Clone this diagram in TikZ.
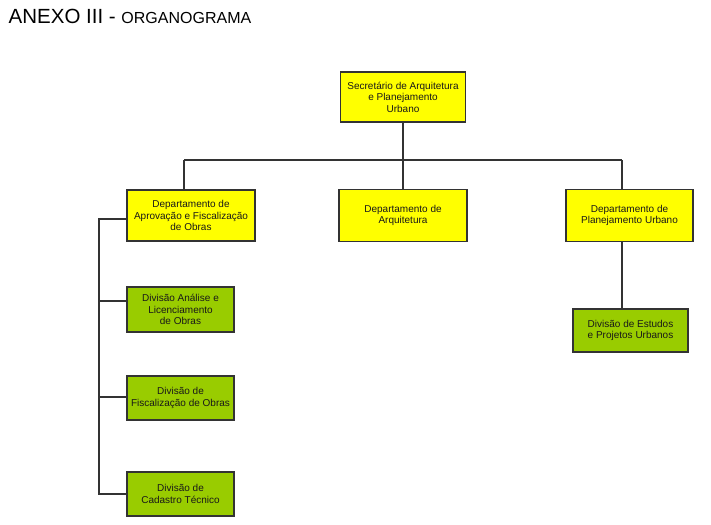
\documentclass[tikz,border=0pt]{standalone}
\usepackage{fontspec}
\setmainfont{Liberation Sans}
\definecolor{boxyellow}{HTML}{FFFF00}
\definecolor{boxgreen}{HTML}{99CC00}
\definecolor{edge}{HTML}{333333}
\begin{document}
\begin{tikzpicture}[x=1pt,y=-1pt,
  box/.style={draw=edge, line width=1.1pt, rectangle, align=center, inner sep=1pt,
    font=\fontsize{10}{11.5}\selectfont, text=black!90},
  dept/.style={box, fill=boxyellow},
  divbox/.style={box, fill=boxgreen},
  conn/.style={draw=edge, line width=1.1pt}]
\useasboundingbox (0,0) rectangle (711,524);
\node[anchor=base west, inner sep=0pt] (title) at (8.5,23.5)
  {\fontsize{20.5}{21}\selectfont ANEXO III - \fontsize{16}{17}\selectfont ORGANOGRAMA};

\node[dept, minimum width=125, minimum height=50] (top) at (403,97)
  {Secretário de Arquitetura\\e Planejamento\\Urbano};
\node[dept, minimum width=128, minimum height=51] (ldep) at (191,215.5)
  {Departamento de\\Aprovação e Fiscalização\\de Obras};
\node[dept, minimum width=128, minimum height=52] (mdep) at (403,215.5)
  {Departamento de\\Arquitetura};
\node[dept, minimum width=127, minimum height=52] (rdep) at (629.5,215.5)
  {Departamento de\\Planejamento Urbano};

\node[divbox, minimum width=107, minimum height=45] (d1) at (180.5,309.5)
  {Divisão Análise e\\Licenciamento\\de Obras};
\node[divbox, minimum width=107, minimum height=44] (d2) at (180.5,398)
  {Divisão de\\Fiscalização de Obras};
\node[divbox, minimum width=107, minimum height=44] (d3) at (180.5,494)
  {Divisão de\\Cadastro Técnico};
\node[divbox, minimum width=115, minimum height=43] (dest) at (630.5,330.5)
  {Divisão de Estudos\\e Projetos Urbanos};

\coordinate (hl) at (184,160);
\coordinate (hr) at (622,160);
\coordinate (bx) at (99,219);
\coordinate (j1) at ([yshift=8.5pt]d1.west);
\coordinate (j2) at ([yshift=1pt]d2.west);

\draw[conn] (top.south) -- (top.south |- hl);
\draw[conn] (hl) -- (hr);
\draw[conn] (hl) -- (hl |- ldep.north);
\draw[conn] (top.south |- hl) -- (mdep.north);
\draw[conn] (hr) -- (hr |- rdep.north);
\draw[conn] (hr |- rdep.south) -- (hr |- dest.north);

\draw[conn] (ldep.west |- bx) -- (bx) -- (bx |- d3.west) -- (d3.west);
\draw[conn] (bx |- j1) -- (j1);
\draw[conn] (bx |- j2) -- (j2);
\end{tikzpicture}
\end{document}
